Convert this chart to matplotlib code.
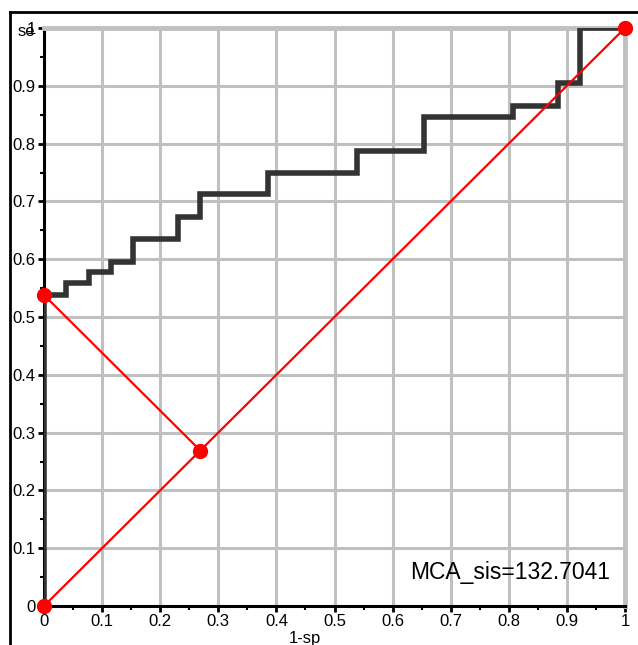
import matplotlib
matplotlib.use("Agg")
import matplotlib.pyplot as plt
from matplotlib.lines import Line2D
from matplotlib.ticker import MultipleLocator

plt.rcParams['font.family'] = ['Liberation Sans', 'DejaVu Sans']

# ROC step curve (1-sp, se)
roc_x = [0, 0, 0.0385, 0.0385, 0.077, 0.077, 0.115, 0.115, 0.154, 0.154, 0.231, 0.231,
         0.269, 0.269, 0.385, 0.385, 0.538, 0.538, 0.654, 0.654, 0.808, 0.808,
         0.885, 0.885, 0.923, 0.923, 1.0]
roc_y = [0, 0.538, 0.538, 0.558, 0.558, 0.577, 0.577, 0.596, 0.596, 0.635, 0.635, 0.673,
         0.673, 0.712, 0.712, 0.75, 0.75, 0.788, 0.788, 0.846, 0.846, 0.865,
         0.865, 0.904, 0.904, 1.0, 1.0]
diag_x = [0, 1]
diag_y = [0, 1]
perp_x = [0, 0.269]
perp_y = [0.538, 0.269]
pts_x = [0, 0, 0.269, 1]
pts_y = [0, 0.538, 0.269, 1]
ticks = [0, 0.1, 0.2, 0.3, 0.4, 0.5, 0.6, 0.7, 0.8, 0.9, 1]
tick_labels = ['0', '0.1', '0.2', '0.3', '0.4', '0.5', '0.6', '0.7', '0.8', '0.9', '1']
annotation = "MCA_sis=132.7041"

fig = plt.figure(figsize=(6.38, 6.45), dpi=100)
ax = fig.add_axes([44/638, 1-606/645, (625-44)/638, (606-28)/645])
ax.set_xlim(0, 1)
ax.set_ylim(0, 1)

ax.grid(True, color='#c0c0c0', linewidth=2.2)
ax.set_axisbelow(True)

ax.plot(roc_x, roc_y, color='#333333', linewidth=4.0, solid_joinstyle='miter', zorder=3)
ax.plot(diag_x, diag_y, color='#ff0000', linewidth=1.6, zorder=4)
ax.plot(perp_x, perp_y, color='#ff0000', linewidth=1.6, zorder=4)
ax.plot(pts_x, pts_y, 'o', color='#ff0000', markersize=10, zorder=5, clip_on=False)

ax.set_xticks(ticks)
ax.set_xticklabels(tick_labels)
ax.set_yticks(ticks)
ax.set_yticklabels(tick_labels)
ax.xaxis.set_minor_locator(MultipleLocator(0.05))
ax.yaxis.set_minor_locator(MultipleLocator(0.05))
ax.tick_params(which='major', direction='out', length=4, width=2, labelsize=12, pad=2, colors='black')
ax.tick_params(which='minor', direction='out', length=3, width=1.5)

for s in ['left', 'bottom']:
    ax.spines[s].set_color('black')
    ax.spines[s].set_linewidth(2.2)
for s in ['top', 'right']:
    ax.spines[s].set_color('#c0c0c0')
    ax.spines[s].set_linewidth(3.5)

fig.text(26/638, 1-32/645, 'se', fontsize=12, ha='center', va='center')
fig.text(305/638, 1-638/645, '1-sp', fontsize=12, ha='center', va='center')
ax.text(0.975, 0.058, annotation, fontsize=16.5, ha='right', va='center', transform=ax.transAxes)

# outer frame
fig.add_artist(Line2D([10/638, 10/638], [0, 1-12/645], transform=fig.transFigure, color='black', linewidth=2))
fig.add_artist(Line2D([10/638, 1], [1-12/645, 1-12/645], transform=fig.transFigure, color='black', linewidth=2))

fig.savefig('out.png', dpi=100)
